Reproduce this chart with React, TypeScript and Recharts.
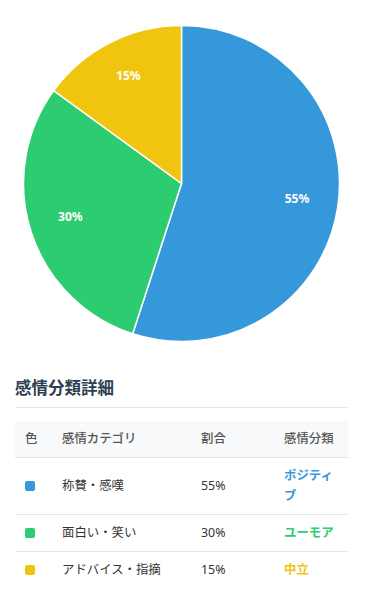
import React from 'react';
import { PieChart, Pie, Cell } from 'recharts';

const categories = ['称賛・感嘆', '面白い・笑い', 'アドバイス・指摘'];
const shares = [55, 30, 15];
const sentiments = ['ポジティブ', 'ユーモア', '中立'];
const colors = ['#3498db', '#2ecc71', '#f1c40f'];
const headers = ['色', '感情カテゴリ', '割合', '感情分類'];

const data = categories.map((name, i) => ({ name, value: shares[i] }));

const FONT = '"Noto Sans", "Noto Sans CJK JP", sans-serif';
const RAD = Math.PI / 180;

const renderLabel = (props: any) => {
  const { cx, cy, midAngle, outerRadius, value } = props;
  const r = outerRadius * 0.74;
  const x = cx + r * Math.cos(-midAngle * RAD);
  const y = cy + r * Math.sin(-midAngle * RAD);
  return (
    <text
      x={x}
      y={y}
      dy={-3.5}
      fill="#ffffff"
      textAnchor="middle"
      dominantBaseline="central"
      fontSize={12}
      fontWeight={700}
      fontFamily={FONT}
    >
      {`${value}%`}
    </text>
  );
};

const colWidths = [37, 139, 83, 74];

export default function App() {
  return (
    <div style={{ width: 333, marginLeft: 7, fontFamily: FONT }}>
      <PieChart width={333} height={350} margin={{ top: 0, right: 0, bottom: 0, left: 0 }}>
        <Pie
          data={data}
          dataKey="value"
          nameKey="name"
          cx={166.5}
          cy={175.5}
          outerRadius={158}
          startAngle={90}
          endAngle={-270}
          stroke="#ffffff"
          strokeWidth={1.5}
          label={renderLabel}
          labelLine={false}
          isAnimationActive={false}
        >
          {data.map((d, i) => (
            <Cell key={d.name} fill={colors[i]} />
          ))}
        </Pie>
      </PieChart>
      <div
        style={{
          marginTop: 18,
          fontSize: 16.5,
          fontWeight: 700,
          lineHeight: '24px',
          color: '#2c3e50',
          paddingBottom: 7,
          borderBottom: '1px solid #e6e6e6',
        }}
      >
        感情分類詳細
      </div>
      <table
        style={{
          marginTop: 13,
          width: 333,
          borderCollapse: 'collapse',
          tableLayout: 'fixed',
          fontSize: 12.4,
          lineHeight: '20px',
          color: '#333',
        }}
      >
        <colgroup>
          {colWidths.map((w, i) => (
            <col key={i} style={{ width: w }} />
          ))}
        </colgroup>
        <thead>
          <tr style={{ background: '#f8f9fa', borderBottom: '1px solid #e3e3e3' }}>
            {headers.map((h) => (
              <th
                key={h}
                style={{
                  textAlign: 'left',
                  fontWeight: 500,
                  color: '#555',
                  padding: '8px 10px',
                }}
              >
                {h}
              </th>
            ))}
          </tr>
        </thead>
        <tbody>
          {categories.map((c, i) => (
            <tr
              key={c}
              style={{
                borderBottom: i < categories.length - 1 ? '1px solid #e6e6e6' : 'none',
              }}
            >
              <td style={{ padding: '8px 10px', verticalAlign: 'middle' }}>
                <div
                  style={{
                    width: 10,
                    height: 10,
                    borderRadius: 2,
                    background: colors[i],
                  }}
                />
              </td>
              <td style={{ padding: '8px 10px' }}>{c}</td>
              <td style={{ padding: '8px 10px' }}>{`${shares[i]}%`}</td>
              <td style={{ padding: '8px 10px', color: colors[i], fontWeight: 700 }}>
                {sentiments[i]}
              </td>
            </tr>
          ))}
        </tbody>
      </table>
    </div>
  );
}
